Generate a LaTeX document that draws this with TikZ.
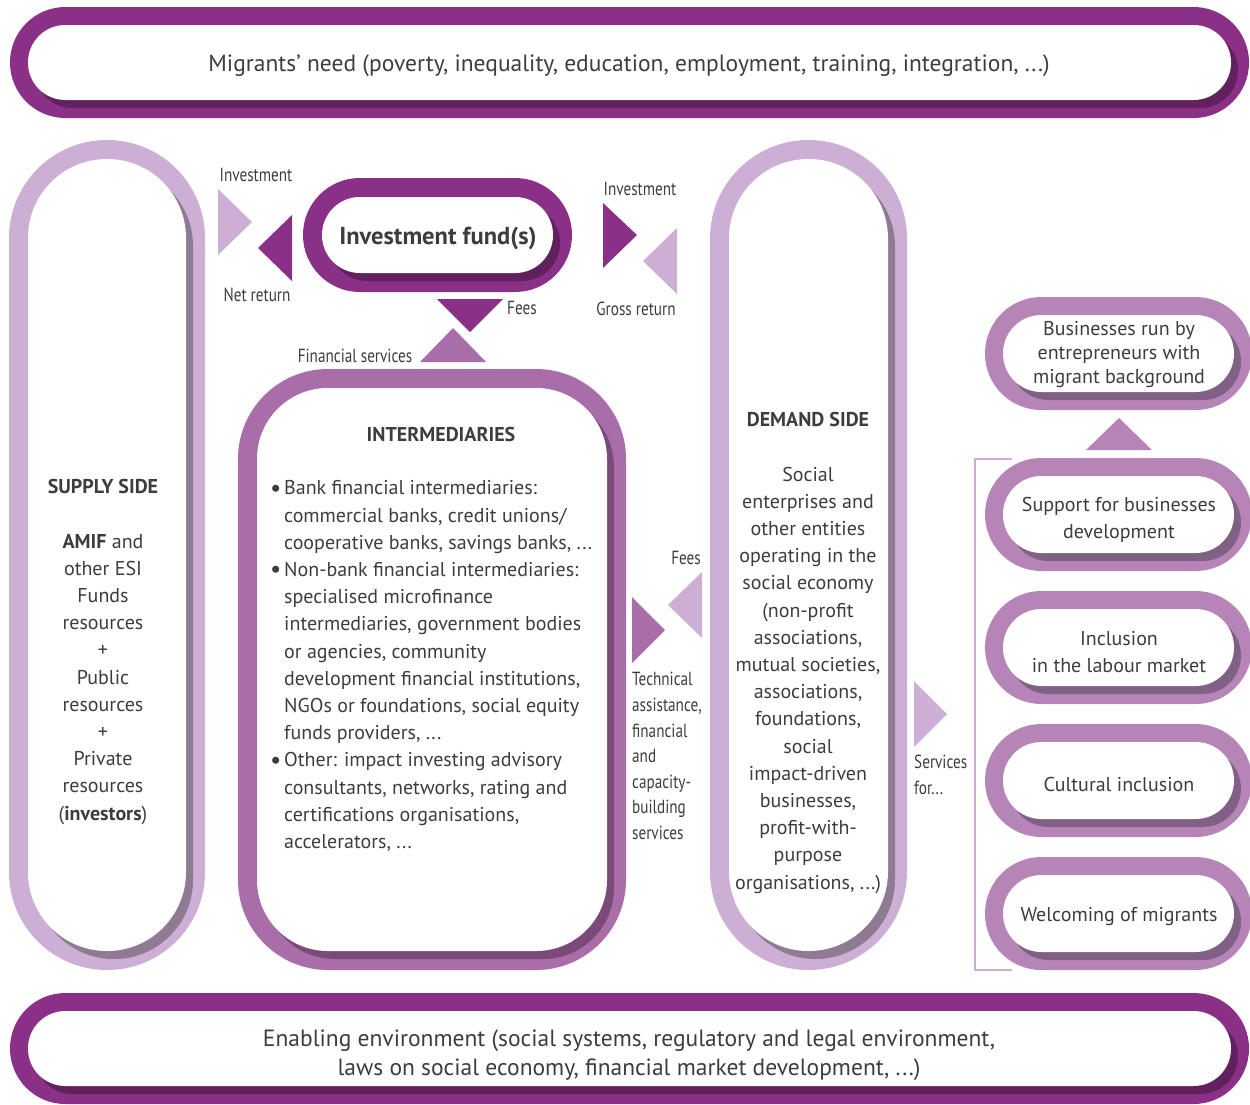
\documentclass[tikz,border=0pt]{standalone}
\usepackage{fontspec}
\setmainfont{PT Sans}
\newfontfamily\condf[FakeStretch=0.8]{PT Sans}
\definecolor{darkP}{HTML}{8B3087}
\definecolor{darkS}{HTML}{62205E}
\definecolor{medP}{HTML}{A96DAA}
\definecolor{medS}{HTML}{7B4A78}
\definecolor{lightP}{HTML}{CDAED5}
\definecolor{lightS}{HTML}{8F7A93}
\definecolor{boxP}{HTML}{B784B8}
\definecolor{boxS}{HTML}{806084}
\definecolor{txt}{HTML}{3D3D3D}
% #1 x1 #2 y1 #3 x2 #4 y2 #5 outer radius #6 thickness #7 ring colour #8 shadow colour
\newcommand\ringshape[8]{%
  \fill[#7, rounded corners={(#5-0.1)*1pt}] (#1,#2) rectangle (#3,#4);
  \fill[#8, rounded corners={(#5-#6-0.1)*1pt}] ({#1+#6+7},{#2+#6+8}) rectangle ({#3-#6+7},{#4-#6+8});
  \fill[white, rounded corners={(#5-#6-0.1)*1pt}] ({#1+#6},{#2+#6}) rectangle ({#3-#6},{#4-#6});
}
\newcommand\bul{\makebox[14pt][l]{\raisebox{-1.2pt}{\fontsize{25}{25}\selectfont\textbullet}}}
\newcommand\ind{\makebox[14pt]{}}
\tikzset{
  every node/.style={text=txt, inner sep=0pt},
  body/.style={font=\fontsize{20}{27.2}\selectfont, align=center},
  banner/.style={font=\fontsize{23.5}{29}\selectfont, align=center},
  small/.style={font=\condf\fontsize{19}{25.6}\selectfont},
  rbox/.style={font=\fontsize{20}{24}\selectfont, align=center},
  rbox2/.style={font=\fontsize{20}{27}\selectfont, align=center},
}
\begin{document}
\begin{tikzpicture}[x=1pt, y=-1pt]
\useasboundingbox (0,0) rectangle (1250,1104);
\clip (0,0) rectangle (1250,1104);
% banners
\ringshape{10}{7}{1249}{118}{55.5}{18}{darkP}{darkS}
\ringshape{10}{993}{1249}{1104}{55.5}{18}{darkP}{darkS}
% columns
\ringshape{9}{140}{205}{970}{98}{19}{lightP}{lightS}
\ringshape{710}{140}{907}{970}{98.5}{19}{lightP}{lightS}
\ringshape{238}{369}{626}{970}{90}{19}{medP}{medS}
\ringshape{303}{178}{572}{292}{57}{19}{darkP}{darkS}
% right boxes
\ringshape{985}{297}{1252}{410}{56.5}{18}{boxP}{boxS}
\ringshape{985}{458}{1252}{571}{56.5}{18}{boxP}{boxS}
\ringshape{985}{591}{1252}{704}{56.5}{18}{boxP}{boxS}
\ringshape{985}{724}{1252}{837}{56.5}{18}{boxP}{boxS}
\ringshape{985}{857}{1252}{970}{56.5}{18}{boxP}{boxS}
% bracket
\draw[lightP, line width=2pt] (1012,459) -- (975,459) -- (975,970) -- (1012,970);
% triangles
\fill[lightP] (218,189) -- (252,222) -- (218,255) -- cycle;
\fill[darkP] (292,215) -- (258,248) -- (292,281) -- cycle;
\fill[darkP] (603,203) -- (637,235) -- (603,268) -- cycle;
\fill[lightP] (677,228) -- (643,261) -- (677,294) -- cycle;
\fill[darkP] (437,299) -- (503,299) -- (470,332) -- cycle;
\fill[medP] (420,362) -- (486,362) -- (453,328) -- cycle;
\fill[medP] (632,597) -- (665,630) -- (632,663) -- cycle;
\fill[lightP] (702,572) -- (668,605) -- (702,638) -- cycle;
\fill[lightP] (914,681) -- (947,714) -- (914,747) -- cycle;
\fill[boxP] (1086,450) -- (1152,450) -- (1119,418) -- cycle;
% texts
\node[banner] (need) at (629,66) {Migrants’ need (poverty, inequality, education, employment, training, integration, ...)};
\node[banner] (env) at (629,1055) {Enabling environment (social systems, regulatory and legal environment,\\laws on social economy, financial market development, ...)};
\node[font=\bfseries\fontsize{24.5}{28}\selectfont] (fund) at (438,238) {Investment fund(s)};
\node[body] (supply) at (103,652) {\textbf{SUPPLY SIDE}\\[27.2pt]\textbf{AMIF} and\\other ESI\\Funds\\resources\\+\\Public\\resources\\+\\Private\\resources\\(\textbf{investors})};
\node[body] (demand) at (808,653) {\textbf{DEMAND SIDE}\\[27.2pt]Social\\enterprises and\\other entities\\operating in the\\social economy\\(non-profit\\associations,\\mutual societies,\\associations,\\foundations,\\social\\impact-driven\\businesses,\\profit-with-\\purpose\\organisations, ...)};
\node[body, font=\bfseries\fontsize{20}{27.2}\selectfont] (intt) at (441,434) {INTERMEDIARIES};
\node[body, align=left, anchor=west] (intl) at (270,666) {\bul Bank financial intermediaries:\\\ind commercial banks, credit unions/\\\ind cooperative banks, savings banks, ...\\\bul Non-bank financial intermediaries:\\\ind specialised microfinance\\\ind intermediaries, government bodies\\\ind or agencies, community\\\ind development financial institutions,\\\ind NGOs or foundations, social equity\\\ind funds providers, ...\\\bul Other: impact investing advisory\\\ind consultants, networks, rating and\\\ind certifications organisations,\\\ind accelerators, ...};
\node[small] (inv1) at (256,175) {Investment};
\node[small] (net) at (257,295) {Net return};
\node[small] (inv2) at (640,189) {Investment};
\node[small] (gross) at (636,309) {Gross return};
\node[small] (fees1) at (522,308) {Fees};
\node[small] (fin) at (355,356) {Financial services};
\node[small, anchor=east] (fees2) at (701,558) {Fees};
\node[small, align=left, anchor=west] (tech) at (632,756) {Technical\\assistance,\\financial\\and\\capacity-\\building\\services};
\node[small, align=left, anchor=west] (serv) at (914,775) {Services\\for...};
\node[rbox] (b1) at (1119,355) {Businesses run by\\entrepreneurs with\\migrant background};
\node[rbox2] (b2) at (1119,520) {Support for businesses\\development};
\node[rbox2] (b3) at (1119,652) {Inclusion\\in the labour market};
\node[rbox] (b4) at (1119,784) {Cultural inclusion};
\node[rbox] (b5) at (1119,917) {Welcoming of migrants};
\end{tikzpicture}
\end{document}
